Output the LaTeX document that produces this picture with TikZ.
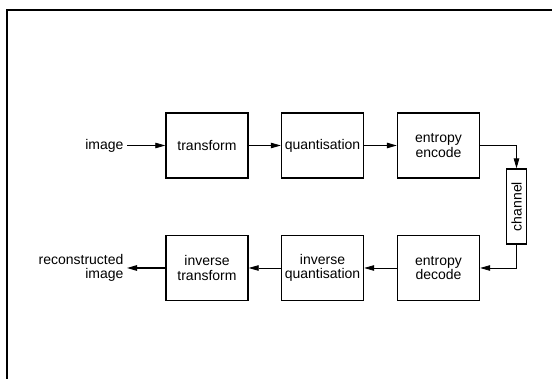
\documentclass[tikz,border=0pt]{standalone}
\usepackage{fontspec}
\setmainfont{Liberation Sans}
\usepackage{graphicx}
\usetikzlibrary{arrows.meta}

\begin{document}
\begin{tikzpicture}[x=1pt,y=-1pt,
  font=\fontsize{14}{14.5}\selectfont,
  block/.style={draw,line width=1.4pt,minimum width=82pt,minimum height=65pt,inner sep=0pt,align=center},
  flow/.style={line width=0.8pt,-{Triangle[length=10pt,width=5.5pt]}}]
\useasboundingbox (0,0) rectangle (552,379);
\draw[line width=1.2pt] (7,379) -- (7,10) -- (552,10);

\node[anchor=east] (img) at (127,145.5) {image};
\node[block] (tr) at (207,145.5) {transform};
\node[block] (qu) at (322.5,145.5) {quantisation};
\node[block] (enc) at (438.5,145.5) {entropy\\encode};
\node[draw,line width=1.2pt,minimum width=20pt,minimum height=75pt,inner sep=0pt] (chan) at (516.5,206.5) {\rotatebox{90}{channel}};
\node[block] (dec) at (438.5,268) {entropy\\decode};
\node[block] (iqu) at (322.5,268) {inverse\\quantisation};
\node[block] (itr) at (207,268) {inverse\\transform};
\node[anchor=east,align=right] (rec) at (127,268) {reconstructed\\image};

\draw[flow] (img) -- (tr);
\draw[flow] (tr) -- (qu);
\draw[flow,line width=1.2pt] (qu) -- (enc);
\draw[flow] (enc.east) -| (chan.north);
\draw[flow] (chan.south) |- (dec.east);
\draw[flow] (dec) -- (iqu);
\draw[flow] (iqu) -- (itr);
\draw[flow,line width=1.2pt] (itr) -- (rec);
\end{tikzpicture}
\end{document}
